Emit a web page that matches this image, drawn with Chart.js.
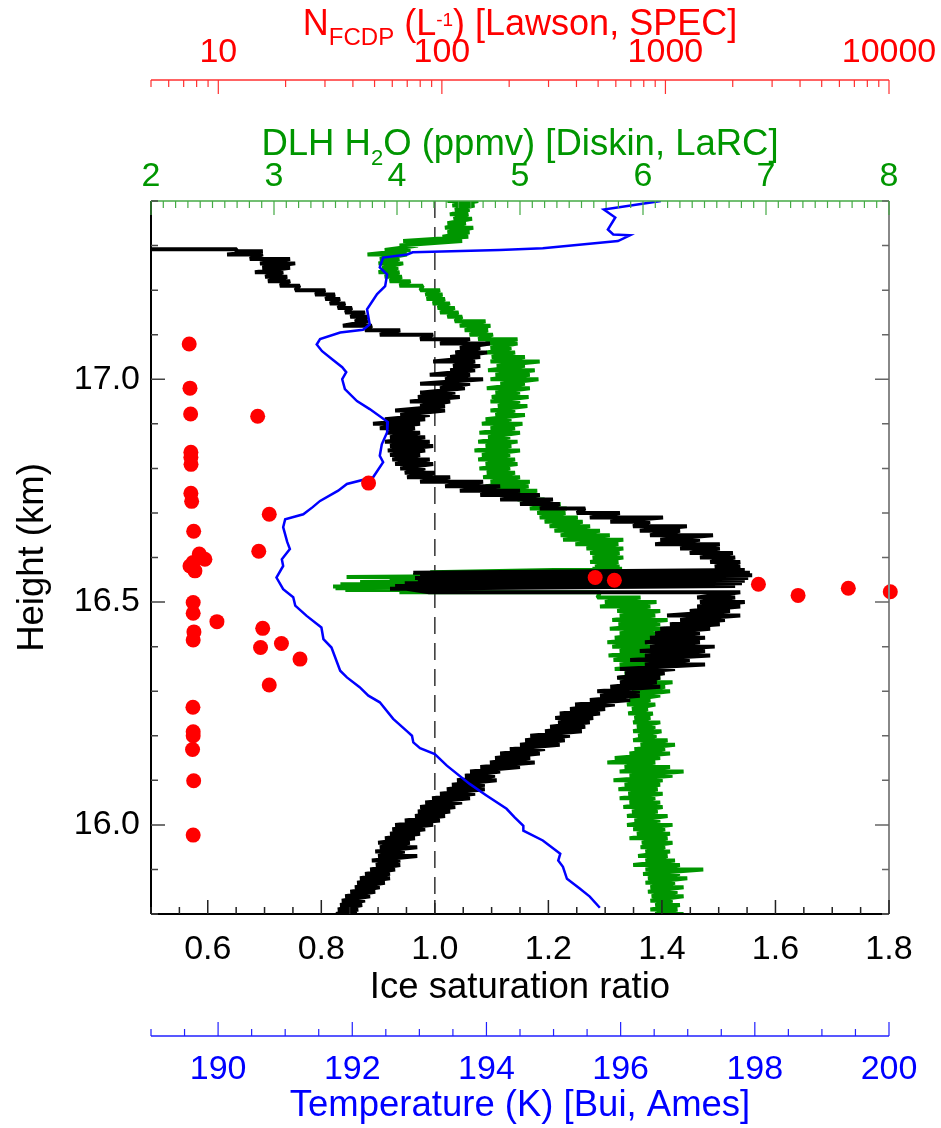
<!DOCTYPE html>
<html>
<head>
<meta charset="utf-8">
<title>Ice saturation profile</title>
<script src="https://cdn.jsdelivr.net/npm/chart.js@4.4.1/dist/chart.umd.min.js"></script>
<style>
  html, body { margin: 0; padding: 0; background: #fff; }
  #wrap { width: 941px; height: 1128px; }
</style>
</head>
<body>
<div id="wrap"><canvas id="profile" width="941" height="1128"></canvas></div>
<script>
// ---- data ----

// ice saturation ratio (black), envelope of the noisy trace per height row
const satHeight = [
    17.292, 17.287, 17.28, 17.27, 17.26, 17.25, 17.24, 17.23, 17.22, 17.21,
    17.20, 17.19, 17.18, 17.17, 17.16, 17.15, 17.14, 17.13, 17.12, 17.11,
    17.10, 17.09, 17.08, 17.07, 17.06, 17.05, 17.04, 17.03, 17.02, 17.01,
    17.00, 16.99, 16.98, 16.97, 16.96, 16.95, 16.94, 16.93, 16.92, 16.91,
    16.90, 16.89, 16.88, 16.87, 16.86, 16.85, 16.84, 16.83, 16.82, 16.81,
    16.80, 16.79, 16.78, 16.77, 16.76, 16.75, 16.74, 16.73, 16.72, 16.71,
    16.70, 16.69, 16.68, 16.67, 16.66, 16.65, 16.64, 16.63, 16.62, 16.61,
    16.60, 16.59, 16.58, 16.572, 16.566, 16.56, 16.554, 16.548, 16.542, 16.536,
    16.53, 16.522, 16.51, 16.50, 16.49, 16.48, 16.47, 16.46, 16.45, 16.44,
    16.43, 16.42, 16.41, 16.40, 16.39, 16.38, 16.37, 16.36, 16.35, 16.34,
    16.33, 16.32, 16.31, 16.30, 16.29, 16.28, 16.27, 16.26, 16.25, 16.24,
    16.23, 16.22, 16.21, 16.20, 16.19, 16.18, 16.17, 16.16, 16.15, 16.14,
    16.13, 16.12, 16.11, 16.10, 16.09, 16.08, 16.07, 16.06, 16.05, 16.04,
    16.03, 16.02, 16.01, 16.00, 15.99, 15.98, 15.97, 15.96, 15.95, 15.94,
    15.93, 15.92, 15.91, 15.90, 15.89, 15.88, 15.87, 15.86, 15.85, 15.84,
    15.83, 15.82, 15.81, 15.80
];
const satLow = [
    0.47, 0.65, 0.634, 0.674, 0.692, 0.696, 0.683, 0.701, 0.706, 0.727,
    0.754, 0.789, 0.807, 0.815, 0.829, 0.842, 0.851, 0.859, 0.838, 0.877,
    0.903, 0.974, 1.009, 1.044, 1.036, 1.027, 0.997, 1.032, 1.027, 0.991,
    1.018, 0.974, 1.009, 0.974, 0.970, 0.956, 0.974, 0.930, 0.939, 0.912,
    0.891, 0.903, 0.916, 0.921, 0.912, 0.921, 0.917, 0.921, 0.925, 0.930,
    0.939, 0.947, 0.951, 0.974, 1.018, 1.044, 1.080, 1.115, 1.150, 1.185,
    1.250, 1.273, 1.309, 1.349, 1.361, 1.379, 1.397, 1.388, 1.432, 1.449,
    1.467, 1.485, 1.493, 1.502, 0.962, 0.974, 0.965, 0.970, 0.947, 0.930,
    0.921, 0.990, 1.462, 1.467, 1.462, 1.449, 1.409, 1.432, 1.414, 1.397,
    1.388, 1.379, 1.370, 1.379, 1.361, 1.370, 1.344, 1.370, 1.326, 1.335,
    1.321, 1.326, 1.309, 1.286, 1.291, 1.273, 1.247, 1.238, 1.220, 1.212,
    1.217, 1.203, 1.194, 1.168, 1.159, 1.150, 1.132, 1.115, 1.106, 1.097,
    1.080, 1.062, 1.053, 1.039, 1.030, 1.021, 1.009, 0.995, 0.983, 0.974,
    0.970, 0.965, 0.947, 0.930, 0.925, 0.921, 0.912, 0.900, 0.903, 0.895,
    0.900, 0.889, 0.896, 0.886, 0.877, 0.868, 0.863, 0.859, 0.851, 0.842,
    0.836, 0.833, 0.829, 0.826
];
const satHigh = [
    0.651, 0.697, 0.697, 0.745, 0.754, 0.745, 0.733, 0.740, 0.745, 0.762,
    0.807, 0.824, 0.833, 0.842, 0.854, 0.877, 0.882, 0.882, 0.889, 0.939,
    0.997, 1.062, 1.097, 1.080, 1.092, 1.080, 1.071, 1.080, 1.071, 1.062,
    1.085, 1.062, 1.053, 1.036, 1.044, 1.027, 1.018, 1.018, 0.991, 0.983,
    0.974, 0.965, 0.974, 0.983, 0.991, 0.997, 0.983, 0.974, 0.991, 0.997,
    0.983, 1.000, 1.027, 1.085, 1.115, 1.150, 1.185, 1.208, 1.220, 1.265,
    1.326, 1.402, 1.379, 1.444, 1.432, 1.490, 1.467, 1.502, 1.502, 1.525,
    1.529, 1.538, 1.538, 1.546, 1.555, 1.559, 1.552, 1.546, 1.541, 1.529,
    0.950, 1.538, 1.529, 1.546, 1.538, 1.520, 1.538, 1.511, 1.502, 1.485,
    1.467, 1.476, 1.467, 1.493, 1.476, 1.485, 1.449, 1.476, 1.423, 1.405,
    1.397, 1.391, 1.397, 1.361, 1.361, 1.344, 1.317, 1.300, 1.291, 1.279,
    1.273, 1.265, 1.259, 1.238, 1.229, 1.220, 1.194, 1.185, 1.168, 1.176,
    1.150, 1.115, 1.106, 1.109, 1.088, 1.088, 1.071, 1.062, 1.048, 1.036,
    1.027, 1.018, 1.009, 0.997, 0.983, 0.974, 0.965, 0.956, 0.969, 0.947,
    0.969, 0.939, 0.939, 0.930, 0.921, 0.921, 0.912, 0.903, 0.895, 0.886,
    0.877, 0.872, 0.865, 0.863
];

// DLH water vapour (green), ppmv
const h2oHeight = [
    17.40, 17.39, 17.38, 17.37, 17.36, 17.35, 17.34, 17.33, 17.32, 17.31,
    17.30, 17.29, 17.28, 17.27, 17.26, 17.25, 17.24, 17.23, 17.22, 17.21,
    17.20, 17.19, 17.18, 17.17, 17.16, 17.15, 17.14, 17.13, 17.12, 17.11,
    17.10, 17.09, 17.08, 17.07, 17.06, 17.05, 17.04, 17.03, 17.02, 17.01,
    17.00, 16.99, 16.98, 16.97, 16.96, 16.95, 16.94, 16.93, 16.92, 16.91,
    16.90, 16.89, 16.88, 16.87, 16.86, 16.85, 16.84, 16.83, 16.82, 16.81,
    16.80, 16.79, 16.78, 16.77, 16.76, 16.75, 16.74, 16.73, 16.72, 16.71,
    16.70, 16.69, 16.68, 16.67, 16.66, 16.65, 16.64, 16.63, 16.62, 16.61,
    16.60, 16.59, 16.58, 16.575, 16.567, 16.561, 16.556, 16.55, 16.545, 16.54,
    16.535, 16.531, 16.527, 16.522, 16.51, 16.50, 16.49, 16.48, 16.47, 16.46,
    16.45, 16.44, 16.43, 16.42, 16.41, 16.40, 16.39, 16.38, 16.37, 16.36,
    16.35, 16.34, 16.33, 16.32, 16.31, 16.30, 16.29, 16.28, 16.27, 16.26,
    16.25, 16.24, 16.23, 16.22, 16.21, 16.20, 16.19, 16.18, 16.17, 16.16,
    16.15, 16.14, 16.13, 16.12, 16.11, 16.10, 16.09, 16.08, 16.07, 16.06,
    16.05, 16.04, 16.03, 16.02, 16.01, 16.00, 15.99, 15.98, 15.97, 15.96,
    15.95, 15.94, 15.93, 15.92, 15.91, 15.90, 15.89, 15.88, 15.87, 15.86,
    15.85, 15.84, 15.83, 15.82, 15.81, 15.80
];
const h2oLow = [
    4.41, 4.45, 4.47, 4.43, 4.46, 4.41, 4.39, 4.41, 4.37, 4.05,
    4.02, 3.90, 3.76, 3.86, 3.85, 3.88, 3.85, 3.90, 3.94, 4.02,
    4.19, 4.23, 4.24, 4.29, 4.33, 4.35, 4.41, 4.47, 4.51, 4.55,
    4.59, 4.66, 4.72, 4.76, 4.73, 4.77, 4.76, 4.81, 4.74, 4.80,
    4.76, 4.84, 4.73, 4.80, 4.77, 4.76, 4.82, 4.76, 4.80, 4.72,
    4.69, 4.76, 4.67, 4.74, 4.66, 4.72, 4.63, 4.69, 4.66, 4.72,
    4.67, 4.73, 4.70, 4.76, 4.72, 4.80, 4.84, 4.98, 5.02, 5.08,
    5.14, 5.16, 5.20, 5.24, 5.28, 5.33, 5.35, 5.45, 5.54, 5.57,
    5.59, 5.57, 5.61, 5.59, 4.27, 4.13, 3.59, 3.94, 3.70, 3.54,
    3.48, 3.50, 3.58, 4.02, 5.63, 5.69, 5.65, 5.79, 5.81, 5.75,
    5.80, 5.73, 5.81, 5.77, 5.71, 5.75, 5.81, 5.72, 5.76, 5.81,
    5.77, 5.85, 5.80, 5.89, 5.87, 5.91, 5.88, 5.89, 5.87, 5.91,
    5.88, 5.93, 5.92, 5.95, 5.92, 5.96, 5.92, 5.98, 5.93, 5.89,
    5.77, 5.71, 5.85, 5.81, 5.89, 5.76, 5.85, 5.80, 5.88, 5.81,
    5.89, 5.84, 5.91, 5.87, 5.93, 5.87, 5.92, 5.95, 5.89, 5.99,
    5.98, 6.02, 5.96, 6.02, 5.92, 6.02, 6.00, 6.04, 6.02, 6.06,
    6.04, 6.07, 6.06, 6.10, 6.06, 6.10
];
const h2oHigh = [
    4.66, 4.63, 4.59, 4.58, 4.61, 4.56, 4.62, 4.59, 4.58, 4.53,
    4.17, 4.11, 4.08, 4.02, 4.05, 4.01, 4.02, 4.04, 4.11, 4.21,
    4.35, 4.37, 4.39, 4.43, 4.47, 4.50, 4.53, 4.72, 4.76, 4.74,
    4.78, 4.98, 4.98, 4.93, 4.96, 5.04, 5.16, 5.04, 5.12, 5.08,
    5.15, 5.04, 5.08, 5.00, 5.07, 5.00, 5.06, 4.96, 5.04, 4.93,
    5.02, 4.96, 5.00, 4.92, 4.98, 4.93, 5.00, 4.92, 4.96, 4.98,
    4.92, 4.96, 5.00, 5.08, 5.07, 5.14, 5.12, 5.20, 5.33, 5.38,
    5.37, 5.47, 5.51, 5.57, 5.65, 5.73, 5.84, 5.80, 5.84, 5.81,
    5.84, 5.80, 5.81, 5.83, 5.57, 5.69, 5.65, 5.81, 5.73, 5.69,
    5.65, 4.59, 4.19, 5.65, 5.98, 6.11, 6.06, 6.14, 6.10, 6.20,
    6.14, 6.18, 6.10, 6.15, 6.06, 6.11, 6.04, 6.10, 6.14, 6.20,
    6.10, 6.16, 6.14, 6.24, 6.18, 6.22, 6.14, 6.06, 6.10, 6.04,
    6.08, 6.06, 6.14, 6.10, 6.15, 6.11, 6.20, 6.26, 6.18, 6.22,
    6.14, 6.10, 6.22, 6.33, 6.24, 6.16, 6.14, 6.12, 6.16, 6.10,
    6.14, 6.16, 6.12, 6.20, 6.14, 6.24, 6.18, 6.22, 6.20, 6.24,
    6.18, 6.22, 6.20, 6.26, 6.30, 6.49, 6.30, 6.36, 6.26, 6.33,
    6.28, 6.33, 6.24, 6.30, 6.28, 6.33
];

// temperature (blue), K
const tempValue = [
    196.60, 195.75, 195.92, 195.81, 195.89, 196.14, 195.96, 194.84, 194.20, 192.90,
    192.82, 192.46, 192.41, 192.52, 192.49, 192.37, 192.22, 192.26, 192.16, 191.82,
    191.52, 191.47, 191.55, 191.70, 191.85, 191.91, 191.85, 191.89, 192.07, 192.26,
    192.53, 192.52, 192.44, 192.41, 192.46, 192.31, 191.92, 191.79, 191.52, 191.41,
    191.27, 191.00, 190.97, 191.03, 191.07, 190.95, 190.97, 190.87, 190.97, 191.12,
    191.15, 191.32, 191.54, 191.57, 191.69, 191.82, 191.92, 192.11, 192.24, 192.41,
    192.61, 192.81, 192.89, 192.91, 193.01, 193.23, 193.41, 193.75, 194.00, 194.30,
    194.42, 194.55, 194.55, 194.84, 195.10, 195.07, 195.14, 195.20, 195.39, 195.54,
    195.69
];
const tempHeight = [
    17.400, 17.381, 17.363, 17.336, 17.325, 17.323, 17.310, 17.294, 17.290, 17.285,
    17.280, 17.273, 17.251, 17.235, 17.209, 17.191, 17.157, 17.123, 17.111, 17.105,
    17.090, 17.078, 17.063, 17.045, 17.027, 17.016, 17.000, 16.978, 16.951, 16.933,
    16.904, 16.881, 16.854, 16.828, 16.814, 16.780, 16.765, 16.750, 16.727, 16.713,
    16.697, 16.686, 16.668, 16.635, 16.619, 16.596, 16.581, 16.555, 16.529, 16.511,
    16.492, 16.469, 16.443, 16.417, 16.398, 16.346, 16.331, 16.309, 16.290, 16.275,
    16.238, 16.211, 16.200, 16.185, 16.172, 16.159, 16.133, 16.092, 16.066, 16.036,
    16.017, 15.998, 15.987, 15.965, 15.935, 15.920, 15.906, 15.879, 15.857, 15.839,
    15.814
];

// FCDP number concentration (red dots), per litre
const fcdpCount = [
    7.41, 7.47, 7.52, 15.0, 7.54, 7.54, 7.55, 47.0, 7.54, 7.60,
    16.9, 7.76, 15.17, 8.22, 8.71, 7.72, 7.47, 7.86, 485, 591,
    2606, 6577, 10134, 3920, 7.72, 7.72, 9.86, 15.8, 7.78, 7.72,
    19.16, 15.45, 23.2, 16.9, 7.70, 7.72, 7.72, 7.67, 7.76, 7.72,
    7.85
];
const fcdpHeight = [
    17.079, 16.980, 16.922, 16.917, 16.836, 16.825, 16.809, 16.767, 16.744, 16.726,
    16.697, 16.659, 16.614, 16.608, 16.596, 16.589, 16.581, 16.570, 16.555, 16.549,
    16.540, 16.531, 16.523, 16.515, 16.499, 16.475, 16.456, 16.441, 16.433, 16.415,
    16.407, 16.398, 16.372, 16.314, 16.264, 16.209, 16.200, 16.169, 16.099, 15.977,
    15.641
];

// tick labels
const heightLabels = [16.0, 16.5, 17.0];
const satLabels = [0.6, 0.8, 1.0, 1.2, 1.4, 1.6, 1.8];
const h2oLabels = [2, 3, 4, 5, 6, 7, 8];
const fcdpLabels = [10, 100, 1000, 10000];
const tempLabels = [190, 192, 194, 196, 198, 200];

// ---- helpers ----
const FONT = "'Liberation Sans', Arial, Helvetica, sans-serif";
const RED = '#ff0000';
const GREEN = '#009600';
const BLUE = '#0000ff';

// noisy traces: walk each height row from low edge to high edge
const zigzag = (heights, low, high) => {
    const pts = [];
    heights.forEach((h, i) => {
        pts.push({ x: low[i], y: h });
        pts.push({ x: high[i], y: h });
    });
    return pts;
};

const pairUp = (xs, ys) => xs.map((v, i) => ({ x: v, y: ys[i] }));

const hasLabel = (list, v) => list.some(l => Math.abs(l - v) < 1e-6);

const tickMarks = (ctx, scale, marks, fixed, dir, horizontal, color, width) => {
    ctx.save();
    ctx.strokeStyle = color;
    ctx.lineWidth = width;
    ctx.beginPath();
    marks.forEach(([v, major]) => {
        const p = scale.getPixelForValue(v);
        const len = major ? 14 : 7;
        if (horizontal) {
            ctx.moveTo(p, fixed);
            ctx.lineTo(p, fixed + dir * len);
        } else {
            ctx.moveTo(fixed, p);
            ctx.lineTo(fixed + dir * len, p);
        }
    });
    ctx.stroke();
    ctx.restore();
};

const line = (ctx, x0, y0, x1, y1, color, width) => {
    ctx.save();
    ctx.strokeStyle = color;
    ctx.lineWidth = width;
    ctx.beginPath();
    ctx.moveTo(x0, y0);
    ctx.lineTo(x1, y1);
    ctx.stroke();
    ctx.restore();
};

// title with sub/superscripts: parts = [text, size, baseline shift]
const richTitle = (ctx, parts, cx, baseline, color) => {
    ctx.save();
    ctx.fillStyle = color;
    ctx.textBaseline = 'alphabetic';
    ctx.textAlign = 'left';
    let total = 0;
    parts.forEach(([t, size]) => {
        ctx.font = size + 'px ' + FONT;
        total += ctx.measureText(t).width;
    });
    let x = cx - total / 2;
    parts.forEach(([t, size, dy]) => {
        ctx.font = size + 'px ' + FONT;
        ctx.fillText(t, x, baseline + dy);
        x += ctx.measureText(t).width;
    });
    ctx.restore();
};

const axisDecor = {
    id: 'axisDecor',
    beforeDatasetsDraw(chart) {
        const { ctx, chartArea: a, scales } = chart;
        const x1 = scales.sat.getPixelForValue(1.0);
        ctx.save();
        ctx.strokeStyle = '#333';
        ctx.lineWidth = 1.5;
        ctx.setLineDash([17, 9]);
        ctx.beginPath();
        ctx.moveTo(x1, a.top);
        ctx.lineTo(x1, a.bottom);
        ctx.stroke();
        ctx.restore();
    },
    afterDraw(chart) {
        const { ctx, chartArea: a, scales } = chart;
        const redY = 80;
        const blueY = 1036;

        // frame
        line(ctx, a.left, a.top, a.left, a.bottom, '#000', 2);
        line(ctx, a.right, a.top, a.right, a.bottom, '#888', 2);
        line(ctx, a.left, a.bottom, a.right, a.bottom, '#000', 2);
        line(ctx, a.left, a.top, a.right, a.top, '#44aa44', 1.5);
        line(ctx, a.left, redY, a.right, redY, '#ff3030', 1.5);
        line(ctx, a.left, blueY, a.right, blueY, '#2020ff', 1.5);

        const hMarks = [];
        for (let k = 158; k <= 174; k++) hMarks.push([k / 10, k % 5 === 0]);
        tickMarks(ctx, scales.y, hMarks, a.left, 1, false, '#444', 1.5);
        tickMarks(ctx, scales.y, hMarks, a.right, -1, false, '#666', 1.5);

        const sMarks = [];
        for (let k = 10; k <= 36; k++) sMarks.push([k / 20, k % 4 === 0]);
        tickMarks(ctx, scales.sat, sMarks, a.bottom, -1, true, '#222', 1.5);

        const wMarks = [];
        for (let k = 20; k <= 80; k++) wMarks.push([k / 10, k % 10 === 0]);
        tickMarks(ctx, scales.h2o, wMarks, a.top, 1, true, '#44aa44', 1.2);

        const nMarks = [];
        [1, 10, 100, 1000].forEach(d => {
            for (let m = 1; m <= 9; m++) {
                const v = m * d;
                if (v >= 5) nMarks.push([v, m === 1]);
            }
        });
        nMarks.push([10000, true]);
        tickMarks(ctx, scales.n, nMarks, redY, 1, true, '#ff3030', 1.2);

        const tMarks = [];
        for (let k = 378; k <= 400; k++) tMarks.push([k / 2, k % 4 === 0]);
        tickMarks(ctx, scales.temp, tMarks, blueY, -1, true, '#2020ff', 1.2);

        richTitle(ctx, [
            ['N', 36, 0], ['FCDP', 24, 10], [' (L', 36, 0], ['-1', 19, -9], [') [Lawson, SPEC]', 36, 0]
        ], (a.left + a.right) / 2, 35, RED);
        richTitle(ctx, [
            ['DLH H', 36.5, 0], ['2', 22, 10], ['O (ppmv) [Diskin, LaRC]', 36.5, 0]
        ], (a.left + a.right) / 2, 155, GREEN);
    }
};

const tickFont = { family: FONT, size: 34 };
const titleFont = { family: FONT, size: 36.5 };
const noGrid = { display: false, drawTicks: false };
const noBorder = { display: false };

const ctx = document.getElementById('profile');

new Chart(ctx, {
    type: 'scatter',
    data: {
        datasets: [
            {
                label: 'N FCDP',
                data: pairUp(fcdpCount, fcdpHeight),
                xAxisID: 'n',
                yAxisID: 'y',
                pointRadius: 7.5,
                pointBackgroundColor: RED,
                pointBorderWidth: 0,
                showLine: false,
                clip: false,
            },
            {
                label: 'Temperature',
                data: pairUp(tempValue, tempHeight),
                xAxisID: 'temp',
                yAxisID: 'y',
                showLine: true,
                borderColor: BLUE,
                borderWidth: 2.5,
                pointRadius: 0,
            },
            {
                label: 'Ice saturation ratio',
                data: zigzag(satHeight, satLow, satHigh),
                xAxisID: 'sat',
                yAxisID: 'y',
                showLine: true,
                borderColor: '#000',
                borderWidth: 4,
                borderJoinStyle: 'bevel',
                pointRadius: 0,
            },
            {
                label: 'DLH H2O',
                data: zigzag(h2oHeight, h2oLow, h2oHigh),
                xAxisID: 'h2o',
                yAxisID: 'y',
                showLine: true,
                borderColor: GREEN,
                borderWidth: 4,
                borderJoinStyle: 'bevel',
                pointRadius: 0,
            },
        ]
    },
    options: {
        responsive: false,
        devicePixelRatio: 1,
        animation: false,
        events: [],
        layout: {
            padding: { left: 0, right: 52, top: 0, bottom: 0 }
        },
        plugins: {
            legend: { display: false },
            tooltip: { enabled: false },
        },
        scales: {
            y: {
                axis: 'y',
                type: 'linear',
                position: 'left',
                min: 15.8,
                max: 17.4,
                grid: noGrid,
                border: noBorder,
                ticks: {
                    stepSize: 0.5,
                    includeBounds: false,
                    padding: 11,
                    color: '#000',
                    font: tickFont,
                    callback: v => hasLabel(heightLabels, v) ? v.toFixed(1) : '',
                },
                title: {
                    display: true,
                    text: 'Height (km)',
                    color: '#000',
                    font: titleFont,
                    padding: { top: 11, bottom: 0 },
                },
                afterFit: s => { s.width = 151; s.paddingTop = 0; s.paddingBottom = 0; },
            },
            sat: {
                axis: 'x',
                type: 'linear',
                position: 'bottom',
                weight: 1,
                min: 0.5,
                max: 1.8,
                grid: noGrid,
                border: noBorder,
                ticks: {
                    stepSize: 0.2,
                    includeBounds: false,
                    autoSkip: false,
                    maxRotation: 0,
                    padding: 15.6,
                    color: '#000',
                    font: tickFont,
                    callback: v => hasLabel(satLabels, v) ? v.toFixed(1) : '',
                },
                title: {
                    display: true,
                    text: 'Ice saturation ratio',
                    color: '#000',
                    font: titleFont,
                    padding: { top: 0, bottom: 0 },
                },
                afterFit: s => { s.height = 96; s.paddingLeft = 0; s.paddingRight = 0; },
            },
            temp: {
                axis: 'x',
                type: 'linear',
                position: 'bottom',
                weight: 2,
                min: 189,
                max: 200,
                grid: noGrid,
                border: noBorder,
                ticks: {
                    stepSize: 2,
                    includeBounds: false,
                    autoSkip: false,
                    maxRotation: 0,
                    padding: 39.6,
                    color: BLUE,
                    font: tickFont,
                    callback: v => hasLabel(tempLabels, v) ? String(v) : '',
                },
                title: {
                    display: true,
                    text: 'Temperature (K) [Bui, Ames]',
                    color: BLUE,
                    font: titleFont,
                    padding: { top: 0, bottom: 0 },
                },
                afterFit: s => { s.height = 118; s.paddingLeft = 0; s.paddingRight = 0; },
            },
            h2o: {
                axis: 'x',
                type: 'linear',
                position: 'top',
                weight: 1,
                min: 2,
                max: 8,
                grid: noGrid,
                border: noBorder,
                ticks: {
                    stepSize: 1,
                    autoSkip: false,
                    maxRotation: 0,
                    padding: 3.6,
                    color: GREEN,
                    font: tickFont,
                    callback: v => hasLabel(h2oLabels, v) ? String(v) : '',
                },
                afterFit: s => { s.height = 121; s.paddingLeft = 0; s.paddingRight = 0; },
            },
            n: {
                axis: 'x',
                type: 'logarithmic',
                position: 'top',
                weight: 2,
                min: 5,
                max: 10000,
                grid: noGrid,
                border: noBorder,
                ticks: {
                    autoSkip: false,
                    maxRotation: 0,
                    padding: 6.6,
                    color: RED,
                    font: tickFont,
                    callback: v => hasLabel(fcdpLabels, v) ? String(v) : '',
                },
                afterFit: s => { s.height = 80; s.paddingLeft = 0; s.paddingRight = 0; },
            },
        }
    },
    plugins: [axisDecor]
});
</script>
</body>
</html>
